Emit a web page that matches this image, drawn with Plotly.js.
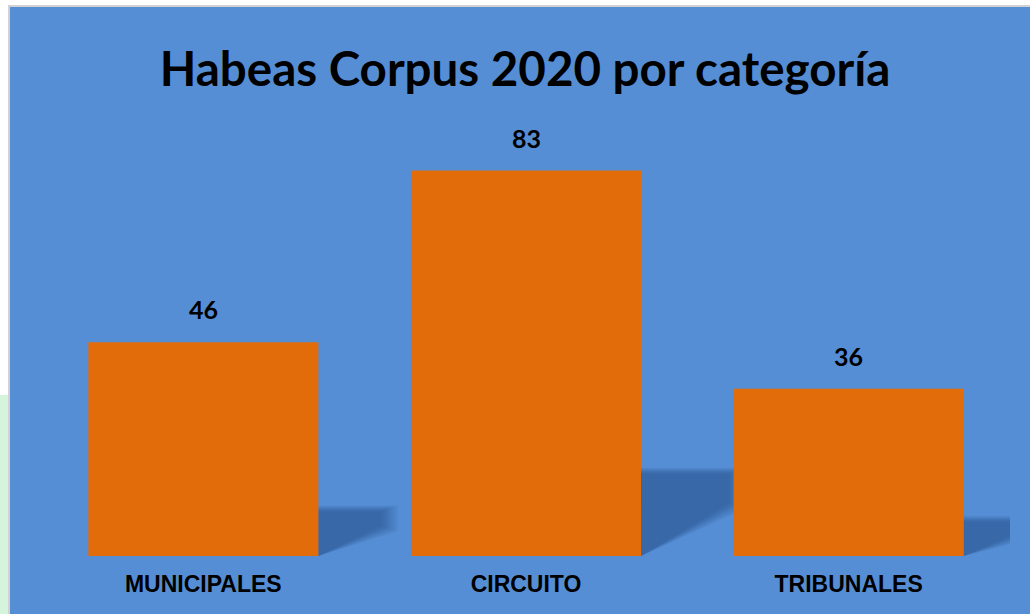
<!DOCTYPE html>
<html>
<head>
<meta charset="utf-8">
<script src="https://cdn.plot.ly/plotly-3.0.1.min.js"></script>
<style>
  html, body { margin: 0; padding: 0; background: #ffffff; width: 1030px; height: 614px; overflow: hidden; }
  #green { position: absolute; left: 0; top: 395px; width: 8px; height: 219px; background: #d4f5dc; }
  #frame { position: absolute; left: 8px; top: 5px; border-top: 2px solid #d2d2d2; border-left: 2px solid #d2d2d2; }
  #chart { width: 1020px; height: 607px; }
</style>
</head>
<body>
<div id="green"></div>
<div id="frame"><div id="chart"></div></div>
<script>
const categories = ["MUNICIPALES", "CIRCUITO", "TRIBUNALES"];
const values = [46, 83, 36];
const chartTitle = "Habeas Corpus 2020 por categoría";

const BLUE = "#558ed5";
const ORANGE = "#e36c0a";
const bargap = 0.287;
const half = (1 - bargap) / 2;

const idx = categories.map((c, i) => i);

// decorative soft floor shadows behind each bar (derived from the data)
const shapes = [];
values.forEach((v, i) => {
  const xr = i + half;
  const hs = 0.22 * v;
  const w = 0.12 + 0.0021 * v;
  const n = 8;
  for (let k = 0; k < n; k++) {
    const t = k / (n - 1);           // 0 = outermost, 1 = innermost
    const gx = 0.05 * (1 - t) - 0.02; // expand / shrink for blur
    const gy = gx * 25;
    const p = `M ${xr} 0 L ${xr} ${hs + gy} L ${xr + w + gx} ${hs + gy} L ${xr + w + gx} ${hs * 0.6 - gy} Z`;
    shapes.push({type: "path", xref: "x", yref: "y", path: p,
      fillcolor: "rgb(25,55,105)", opacity: 0.06, line: {width: 0}, layer: "below"});
  }
});

const annotations = values.map((v, i) => ({
  x: i, y: v, xref: "x", yref: "y", text: String(v), showarrow: false,
  yanchor: "bottom", yshift: 16,
  font: {family: "Lato, 'Noto Sans', sans-serif", size: 25, color: "#000000", weight: 700}
}));

const trace = {
  type: "bar", x: idx, y: values,
  marker: {color: ORANGE, line: {width: 0}},
  hoverinfo: "skip"
};

const layout = {
  width: 1020, height: 607,
  paper_bgcolor: BLUE, plot_bgcolor: BLUE,
  margin: {l: 32, r: 20, t: 130.5, b: 58},
  bargap: bargap,
  showlegend: false,
  title: {
    text: "<b>" + chartTitle + "</b>",
    x: 0.505, xref: "container", xanchor: "center",
    y: 1 - 62 / 607, yref: "container", yanchor: "middle",
    font: {family: "Lato, 'Noto Sans', sans-serif", size: 47.5, color: "#000000"}
  },
  xaxis: {
    type: "linear", range: [-0.5, 2.5],
    tickmode: "array", tickvals: idx, ticktext: categories.map(c => "<b>" + c + "</b>"),
    ticks: "", showgrid: false, zeroline: false, showline: false,
    ticklabelstandoff: 12,
    tickfont: {family: "'Liberation Sans', Arial, sans-serif", size: 23, color: "#000000"},
    fixedrange: true
  },
  yaxis: {
    range: [0, 90], visible: false, showgrid: false, zeroline: false, fixedrange: true
  },
  shapes: shapes,
  annotations: annotations
};

Plotly.newPlot("chart", [trace], layout, {displayModeBar: false, staticPlot: true});
</script>
</body>
</html>
